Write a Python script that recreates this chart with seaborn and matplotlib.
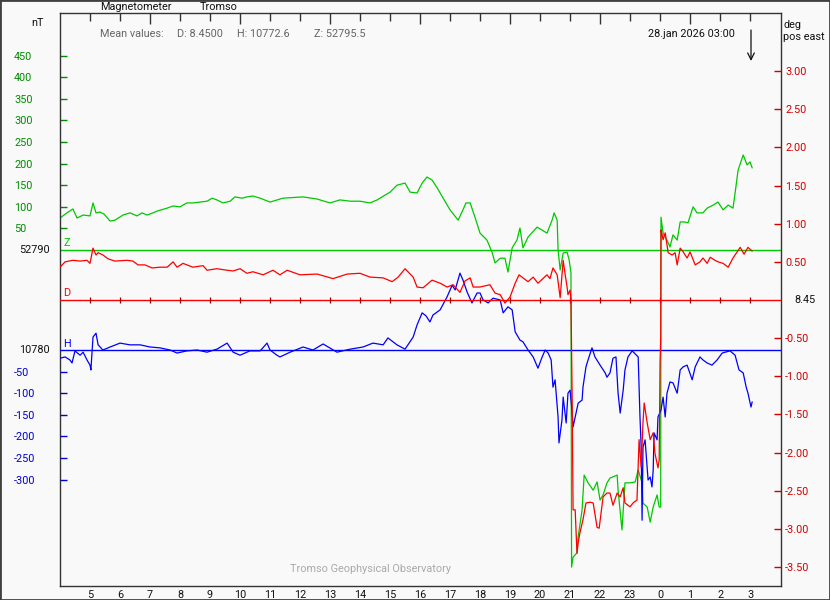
import matplotlib
matplotlib.use("Agg")
import seaborn as sns
import matplotlib.transforms as mtransforms
from matplotlib import pyplot as plt
from matplotlib.patches import Rectangle

# time in hours UT from 00:00 27 jan (values above 24 are 28 jan)
# Z: nT relative to 52790
z_time = [4.00, 4.23, 4.43, 4.57, 4.77, 5.00, 5.10, 5.20, 5.33, 5.47,
          5.67, 5.83, 6.10, 6.33, 6.57, 6.73, 6.90, 7.10, 7.23, 7.57,
          7.77, 8.00, 8.23, 8.43, 8.67, 8.90, 9.07, 9.23, 9.43, 9.67,
          9.83, 10.07, 10.23, 10.43, 10.67, 11.00, 11.43, 12.10, 12.57, 13.00,
          13.33, 13.67, 14.00, 14.33, 14.57, 14.83, 15.00, 15.23, 15.50, 15.67,
          15.90, 16.07, 16.23, 16.40, 16.57, 16.77, 17.00, 17.27, 17.43, 17.53,
          17.67, 17.83, 18.00, 18.23, 18.40, 18.50, 18.67, 18.83, 18.93, 19.07,
          19.23, 19.33, 19.43, 19.60, 19.90, 20.07, 20.23, 20.40, 20.47, 20.57,
          20.60, 20.67, 20.77, 20.90, 20.97, 21.03, 21.05, 21.10, 21.23, 21.27,
          21.40, 21.47, 21.60, 21.77, 21.90, 22.00, 22.10, 22.23, 22.33, 22.57,
          22.60, 22.70, 22.73, 22.83, 23.00, 23.17, 23.27, 23.40, 23.43, 23.57,
          23.67, 23.77, 23.90, 23.97, 24.02, 24.03, 24.10, 24.23, 24.33, 24.43,
          24.57, 24.67, 24.80, 24.93, 25.10, 25.23, 25.43, 25.57, 25.77, 25.93,
          26.10, 26.27, 26.43, 26.50, 26.60, 26.77, 26.90, 27.00, 27.07]
z_val = [74, 86, 95, 74, 81, 79, 109, 86, 88, 83,
         67, 69, 81, 86, 79, 86, 81, 86, 90, 97,
         102, 100, 109, 109, 111, 113, 120, 116, 109, 113,
         123, 120, 123, 125, 120, 111, 120, 123, 118, 109,
         116, 113, 113, 109, 116, 127, 134, 150, 155, 134,
         132, 155, 169, 162, 144, 120, 93, 69, 93, 109,
         109, 76, 39, 23, -5, -30, -19, -19, -51, 5,
         23, 51, 5, 30, 53, 46, 39, 69, 86, 69,
         0, -46, -7, -5, -23, -53, -734, -711, -701, -664,
         -602, -521, -539, -556, -537, -579, -567, -539, -528, -521,
         -556, -625, -648, -539, -539, -537, -509, -539, -586, -595,
         -630, -595, -567, -595, -595, 76, 39, 23, 7, 35,
         23, 65, 65, 63, 100, 86, 86, 97, 104, 111,
         93, 104, 97, 132, 185, 220, 197, 204, 190]

# D: degrees relative to 8.45
d_time = [4.00, 4.17, 4.43, 4.67, 4.90, 5.00, 5.10, 5.20, 5.27, 5.43,
          5.60, 5.83, 6.23, 6.43, 6.60, 6.83, 7.07, 7.33, 7.57, 7.77,
          7.90, 8.10, 8.43, 8.77, 8.90, 9.23, 9.57, 9.77, 10.00, 10.23,
          10.43, 10.77, 11.10, 11.33, 11.57, 12.00, 12.57, 13.10, 13.57, 14.00,
          14.33, 14.77, 15.07, 15.27, 15.50, 15.77, 15.90, 16.10, 16.40, 16.67,
          16.90, 17.10, 17.33, 17.50, 17.67, 17.77, 18.00, 18.33, 18.50, 18.67,
          18.83, 19.00, 19.17, 19.30, 19.43, 19.60, 19.77, 19.93, 20.23, 20.33,
          20.43, 20.57, 20.67, 20.77, 20.83, 20.90, 20.93, 21.00, 21.03, 21.07,
          21.10, 21.17, 21.23, 21.27, 21.33, 21.43, 21.53, 21.67, 21.77, 21.90,
          21.97, 22.10, 22.23, 22.33, 22.43, 22.57, 22.67, 22.77, 22.83, 23.00,
          23.10, 23.23, 23.30, 23.37, 23.43, 23.47, 23.57, 23.67, 23.77, 23.83,
          23.93, 23.97, 24.00, 24.02, 24.03, 24.07, 24.10, 24.17, 24.27, 24.40,
          24.50, 24.57, 24.67, 24.77, 24.90, 25.00, 25.17, 25.33, 25.43, 25.57,
          25.67, 25.83, 25.93, 26.10, 26.27, 26.43, 26.67, 26.80, 26.93, 27.07]
d_val = [0.43, 0.50, 0.52, 0.51, 0.52, 0.48, 0.68, 0.59, 0.62, 0.59,
         0.54, 0.51, 0.52, 0.51, 0.46, 0.46, 0.42, 0.43, 0.43, 0.50,
         0.43, 0.48, 0.43, 0.45, 0.39, 0.41, 0.39, 0.38, 0.41, 0.35,
         0.37, 0.33, 0.39, 0.33, 0.39, 0.33, 0.34, 0.28, 0.34, 0.35,
         0.30, 0.29, 0.24, 0.30, 0.41, 0.30, 0.17, 0.16, 0.26, 0.22,
         0.17, 0.20, 0.10, 0.25, 0.29, 0.17, 0.17, 0.20, 0.09, 0.07,
         -0.04, 0.04, 0.22, 0.33, 0.29, 0.24, 0.30, 0.22, 0.33, 0.28,
         0.42, 0.33, 0.03, 0.52, 0.35, 0.17, 0.07, 0.13, 0.00, -1.31,
         -2.75, -2.75, -3.32, -3.18, -3.05, -2.88, -2.66, -2.65, -2.66, -2.98,
         -2.99, -2.58, -2.53, -2.53, -2.69, -2.53, -2.58, -2.46, -2.66, -2.71,
         -2.66, -2.62, -1.83, -2.19, -1.61, -1.35, -1.61, -1.83, -1.74, -2.01,
         -2.20, -2.10, -0.81, -0.52, 0.92, 0.85, 0.79, 0.88, 0.62, 0.59,
         0.62, 0.46, 0.68, 0.63, 0.55, 0.63, 0.46, 0.50, 0.55, 0.48,
         0.56, 0.52, 0.50, 0.48, 0.43, 0.55, 0.69, 0.60, 0.69, 0.64]

# H: nT relative to 10780
h_time = [4.00, 4.17, 4.33, 4.40, 4.50, 4.67, 4.77, 4.90, 5.00, 5.03,
          5.10, 5.20, 5.27, 5.43, 5.67, 6.00, 6.33, 6.67, 7.00, 7.33,
          7.67, 7.90, 8.23, 8.57, 8.90, 9.23, 9.57, 9.77, 10.00, 10.33,
          10.67, 10.90, 11.00, 11.23, 11.33, 11.67, 12.10, 12.43, 12.77, 13.23,
          13.67, 14.10, 14.43, 14.77, 14.93, 15.23, 15.50, 15.77, 15.90, 16.07,
          16.20, 16.33, 16.43, 16.67, 16.90, 17.07, 17.17, 17.33, 17.43, 17.57,
          17.73, 17.90, 18.00, 18.10, 18.27, 18.43, 18.67, 18.77, 18.93, 19.07,
          19.17, 19.33, 19.43, 19.60, 19.77, 19.93, 20.07, 20.17, 20.27, 20.37,
          20.43, 20.50, 20.60, 20.63, 20.73, 20.77, 20.87, 20.93, 21.00, 21.07,
          21.10, 21.20, 21.27, 21.40, 21.43, 21.53, 21.60, 21.73, 21.83, 22.00,
          22.17, 22.23, 22.33, 22.43, 22.53, 22.60, 22.67, 22.77, 22.83, 22.93,
          23.07, 23.27, 23.33, 23.37, 23.40, 23.43, 23.50, 23.57, 23.60, 23.67,
          23.73, 23.77, 23.80, 23.90, 23.93, 24.03, 24.10, 24.17, 24.23, 24.33,
          24.43, 24.57, 24.67, 24.77, 24.90, 25.07, 25.17, 25.33, 25.43, 25.57,
          25.73, 25.90, 26.07, 26.33, 26.50, 26.63, 26.77, 26.87, 26.93, 27.03,
          27.07]
h_val = [-19, -16, -23, -30, -2, -12, -5, -23, -35, -46,
         30, 39, 12, 0, 7, 16, 12, 12, 7, 5,
         0, -7, -2, 0, -5, 2, 16, -5, -12, -2,
         -2, 16, 0, -12, -16, -5, 7, 0, 14, -5,
         2, 7, 16, 12, 28, 12, 2, 30, 58, 86,
         79, 65, 81, 93, 123, 150, 139, 178, 162, 134,
         109, 132, 132, 116, 109, 120, 116, 86, 100, 93,
         42, 23, 19, 0, -16, -42, -16, 0, -7, -23,
         -86, -69, -155, -215, -162, -109, -169, -100, -93, -146,
         -178, -146, -123, -116, -86, -39, -23, 5, -16, -35,
         -53, -63, -53, -19, -16, -100, -146, -93, -46, -16,
         -2, -16, -155, -225, -394, -225, -208, -271, -301, -294,
         -317, -278, -192, -208, -155, -139, -109, -155, -100, -74,
         -76, -100, -46, -39, -35, -69, -39, -16, -23, -30,
         -35, -23, -7, -2, -12, -46, -53, -86, -100, -132,
         -120]

z_ticks = [50, 100, 150, 200, 250, 300, 350, 400, 450]
h_ticks = [-50, -100, -150, -200, -250, -300]
d_ticks = [3.0, 2.5, 2.0, 1.5, 1.0, 0.5, -0.5, -1.0, -1.5, -2.0, -2.5, -3.0, -3.5]
hours_long = [7, 10, 13, 16, 19, 22, 25]
hours_short = [5, 6, 8, 9, 11, 12, 14, 15, 17, 18, 20, 21, 23, 24, 26, 27]

BG = "#f9f9f9"
DARK = "#333333"
GREEN, GREEN_TXT = "#00c800", "#008c00"
BLUE, BLUE_TXT = "#0000ff", "#0000d0"
RED, RED_TXT = "#ff0000", "#d00000"
FS = 7.8

sns.set_style("white")
plt.rcParams["font.family"] = ["Roboto", "DejaVu Sans"]
plt.rcParams["axes.unicode_minus"] = False

W, H = 830, 600
fig = plt.figure(figsize=(8.3, 6), dpi=100)
fig.patch.set_facecolor(BG)


def px(x, y):
    return x / W, 1 - y / H


axZ = fig.add_axes([60 / W, 14 / H, 721 / W, 573 / H])
axZ.set_facecolor(BG)
axH = axZ.twinx()
axD = axZ.twinx()

axZ.set_xlim(4.0, 28.03)
axZ.set_ylim(-777.8, 548.7)
axH.set_ylim(-546.3, 780.2)
axD.set_ylim(-3.748, 3.761)

axZ.axhline(0, color=GREEN, lw=1.0)
axH.axhline(0, color=BLUE, lw=1.0)
axD.axhline(0, color=RED, lw=1.0)
axD.plot(hours_long + hours_short, [0] * 23, ls="none", marker="|",
         ms=5, mew=0.9, color="#a00000")

sns.lineplot(x=z_time, y=z_val, ax=axZ, color=GREEN, lw=0.9, estimator=None, sort=False)
sns.lineplot(x=h_time, y=h_val, ax=axH, color=BLUE, lw=0.9, estimator=None, sort=False)
sns.lineplot(x=d_time, y=d_val, ax=axD, color=RED, lw=0.9, estimator=None, sort=False)

for a in (axZ, axH, axD):
    a.set_xlabel("")
    a.set_ylabel("")
for a in (axH, axD):
    for s in a.spines.values():
        s.set_visible(False)
for s in axZ.spines.values():
    s.set_color(DARK)
    s.set_linewidth(1.0)

# x axis: hours, wrapping at midnight
axZ.set_xticks(hours_long, labels=[str(h % 24) for h in hours_long])
axZ.set_xticks(hours_short, labels=[str(h % 24) for h in hours_short], minor=True)
axZ.tick_params(axis="x", which="both", direction="in", top=True, color=DARK,
                width=1, labelsize=FS, pad=3, labelcolor="#111111")
axZ.tick_params(axis="x", which="major", length=8)
axZ.tick_params(axis="x", which="minor", length=5.6)

# left: Z (green) and H (blue)
axZ.set_yticks(z_ticks, labels=[str(v) for v in z_ticks])
axZ.tick_params(axis="y", direction="in", length=5, width=1, color=GREEN_TXT,
                labelcolor=GREEN_TXT, labelsize=FS, pad=33, right=False)
for lbl in axZ.get_yticklabels():
    lbl.set_horizontalalignment("left")

axH.yaxis.tick_left()
axH.set_yticks(h_ticks, labels=[str(v) for v in h_ticks])
axH.tick_params(axis="y", direction="in", length=5, width=1, color=BLUE_TXT,
                labelcolor=BLUE_TXT, labelsize=FS, pad=33)
for lbl in axH.get_yticklabels():
    lbl.set_horizontalalignment("left")

# right: D (red)
axD.set_yticks(d_ticks, labels=[f"{v:.2f}" for v in d_ticks])
axD.tick_params(axis="y", direction="in", length=5, width=1, color=RED_TXT,
                labelcolor=RED_TXT, labelsize=FS, pad=3)

# baseline labels
trZ = mtransforms.blended_transform_factory(fig.transFigure, axZ.transData)
trH = mtransforms.blended_transform_factory(fig.transFigure, axH.transData)
trD = mtransforms.blended_transform_factory(fig.transFigure, axD.transData)
axZ.text(19 / W, 0, "52790", transform=trZ, fontsize=FS, va="center", color="#111111", clip_on=False)
axH.text(19 / W, 0, "10780", transform=trH, fontsize=FS, va="center", color="#111111", clip_on=False)
axD.text(794 / W, 0, "8.45", transform=trD, fontsize=FS, va="center", color="#111111", clip_on=False)
axZ.text(4.1, 4, "Z", fontsize=FS, color=GREEN, va="bottom")
axH.text(4.1, 3, "H", fontsize=FS, color=BLUE, va="bottom")
axD.text(4.1, 0.02, "D", fontsize=FS, color=RED, va="bottom")

# header and footer text
fig.text(*px(100, 7), "Magnetometer", fontsize=FS, va="center", color="#111111")
fig.text(*px(200, 7), "Tromso", fontsize=FS, va="center", color="#111111")
fig.text(*px(31, 23), "nT", fontsize=FS, va="center", color="#111111")
fig.text(*px(100, 34), "Mean values:", fontsize=FS, va="center", color="#666666")
fig.text(*px(177, 34), "D: 8.4500", fontsize=FS, va="center", color="#666666")
fig.text(*px(237, 34), "H: 10772.6", fontsize=FS, va="center", color="#666666")
fig.text(*px(314, 34), "Z: 52795.5", fontsize=FS, va="center", color="#666666")
fig.text(*px(648, 34), "28.jan 2026 03:00", fontsize=FS, va="center", color="#111111")
fig.text(*px(783, 25), "deg", fontsize=FS, va="center", color="#111111")
fig.text(*px(783, 37), "pos east", fontsize=FS, va="center", color="#111111")
fig.text(*px(290, 569), "Tromso Geophysical Observatory", fontsize=FS, va="center", color="#aaaaaa")
axZ.annotate("", xy=(751, H - 61), xycoords="figure pixels",
             xytext=(751, H - 30), textcoords="figure pixels",
             arrowprops=dict(arrowstyle="->", color="#111111", lw=0.9,
                             mutation_scale=12, shrinkA=0, shrinkB=0))

fig.add_artist(Rectangle((0, 0), 1, 1, transform=fig.transFigure, fill=False,
                         edgecolor="#404040", lw=2))

fig.savefig("out.png", dpi=100, facecolor=BG)
